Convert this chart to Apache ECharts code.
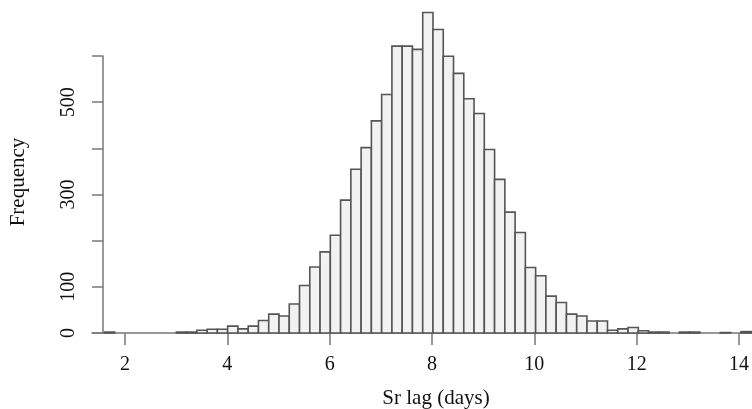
<!DOCTYPE html>
<html>
<head>
<meta charset="utf-8">
<script src="https://cdn.jsdelivr.net/npm/echarts@6/dist/echarts.min.js"></script>
<style>
html,body{margin:0;padding:0;background:#fff;}
#chart{width:752px;height:409px;}
</style>
</head>
<body>
<div id="chart"></div>
<script>
// Histogram: bins of width 0.2 starting at 1.6 (days)
const binStart = 1.6;
const binWidth = 0.2;
const counts = [
  2, 0, 0, 0, 0, 0, 0,          // 1.6 - 3.0
  2, 2, 6, 8, 8,                // 3.0 - 4.0
  15, 9, 15, 27, 41,            // 4.0 - 5.0
  37, 63, 103, 143, 176,        // 5.0 - 6.0
  212, 288, 355, 402, 460,      // 6.0 - 7.0
  517, 622, 622, 615, 695,      // 7.0 - 8.0
  658, 600, 563, 508, 476,      // 8.0 - 9.0
  398, 333, 262, 218, 142,      // 9.0 - 10.0
  124, 80, 66, 41, 37,          // 10.0 - 11.0
  26, 26, 6, 9, 12,             // 11.0 - 12.0
  5, 2, 2, 0, 2,                // 12.0 - 13.0
  2, 0, 0, 1, 0,                // 13.0 - 14.0
  3                             // 14.0 - 14.2
];
const xTicks = [2, 4, 6, 8, 10, 12, 14];
const yTicks = [0, 100, 200, 300, 400, 500, 600];
const yTickLabelsShown = [0, 100, 300, 500];
const xTitle = 'Sr lag (days)';
const yTitle = 'Frequency';

const FONT = 'Liberation Serif';
const AXIS_COLOR = '#777';
const TEXT_COLOR = '#111';

const histData = counts.map((c, i) => {
  const x0 = +(binStart + i * binWidth).toFixed(1);
  const x1 = +(x0 + binWidth).toFixed(1);
  return [x0, x1, c];
}).filter(d => d[2] > 0);

const chart = echarts.init(document.getElementById('chart'), null, {renderer: 'canvas'});

const option = {
  animation: false,
  backgroundColor: '#fff',
  grid: [
    {left: 92, width: 660, top: 0, bottom: 76},        // bars
    {left: 125, width: 616, top: 0, bottom: 76},       // x ticks
    {left: 103, width: 10, top: 56, bottom: 76}        // y axis
  ],
  xAxis: [
    {gridIndex: 0, type: 'value', min: 1.357, max: 14.215,
     axisLine: {show: true, onZero: false, lineStyle: {color: AXIS_COLOR, width: 1.5}},
     axisTick: {show: false}, axisLabel: {show: false}, splitLine: {show: false}},
    {gridIndex: 1, type: 'value', min: xTicks[0], max: xTicks[xTicks.length - 1], interval: 2,
     axisLine: {show: false},
     axisTick: {show: true, length: 12, lineStyle: {color: AXIS_COLOR, width: 1.5}},
     axisLabel: {show: true, margin: 22, fontFamily: FONT, fontSize: 20, color: TEXT_COLOR},
     splitLine: {show: false}},
    {gridIndex: 2, type: 'value', show: false}
  ],
  yAxis: [
    {gridIndex: 0, type: 'value', min: 0, max: 722, show: false},
    {gridIndex: 1, type: 'value', min: 0, max: 722, show: false},
    {gridIndex: 2, type: 'value', min: yTicks[0], max: yTicks[yTicks.length - 1], interval: 100,
     axisLine: {show: true, lineStyle: {color: AXIS_COLOR, width: 1.5}},
     axisTick: {show: true, length: 11, lineStyle: {color: AXIS_COLOR, width: 1.5}},
     axisLabel: {show: true, rotate: 90, margin: 24, fontFamily: FONT, fontSize: 20, color: TEXT_COLOR,
       formatter: v => yTickLabelsShown.includes(v) ? String(v) : ''},
     splitLine: {show: false}}
  ],
  series: [{
    type: 'custom',
    xAxisIndex: 0,
    yAxisIndex: 0,
    data: histData,
    renderItem: function (params, api) {
      const p0 = api.coord([api.value(0), api.value(2)]);
      const p1 = api.coord([api.value(1), 0]);
      return {
        type: 'rect',
        shape: {x: p0[0], y: p0[1], width: p1[0] - p0[0], height: p1[1] - p0[1]},
        style: {fill: '#f2f2f2', stroke: '#555', lineWidth: 1.6}
      };
    }
  }],
  graphic: [
    {type: 'text', x: 436, y: 398,
     style: {text: xTitle, font: '21px "Liberation Serif"', fill: TEXT_COLOR, align: 'center', verticalAlign: 'middle'}},
    {type: 'text', x: 18, y: 182, rotation: Math.PI / 2,
     style: {text: yTitle, font: '21px "Liberation Serif"', fill: TEXT_COLOR, align: 'center', verticalAlign: 'middle'}}
  ]
};
chart.setOption(option);
</script>
</body>
</html>
